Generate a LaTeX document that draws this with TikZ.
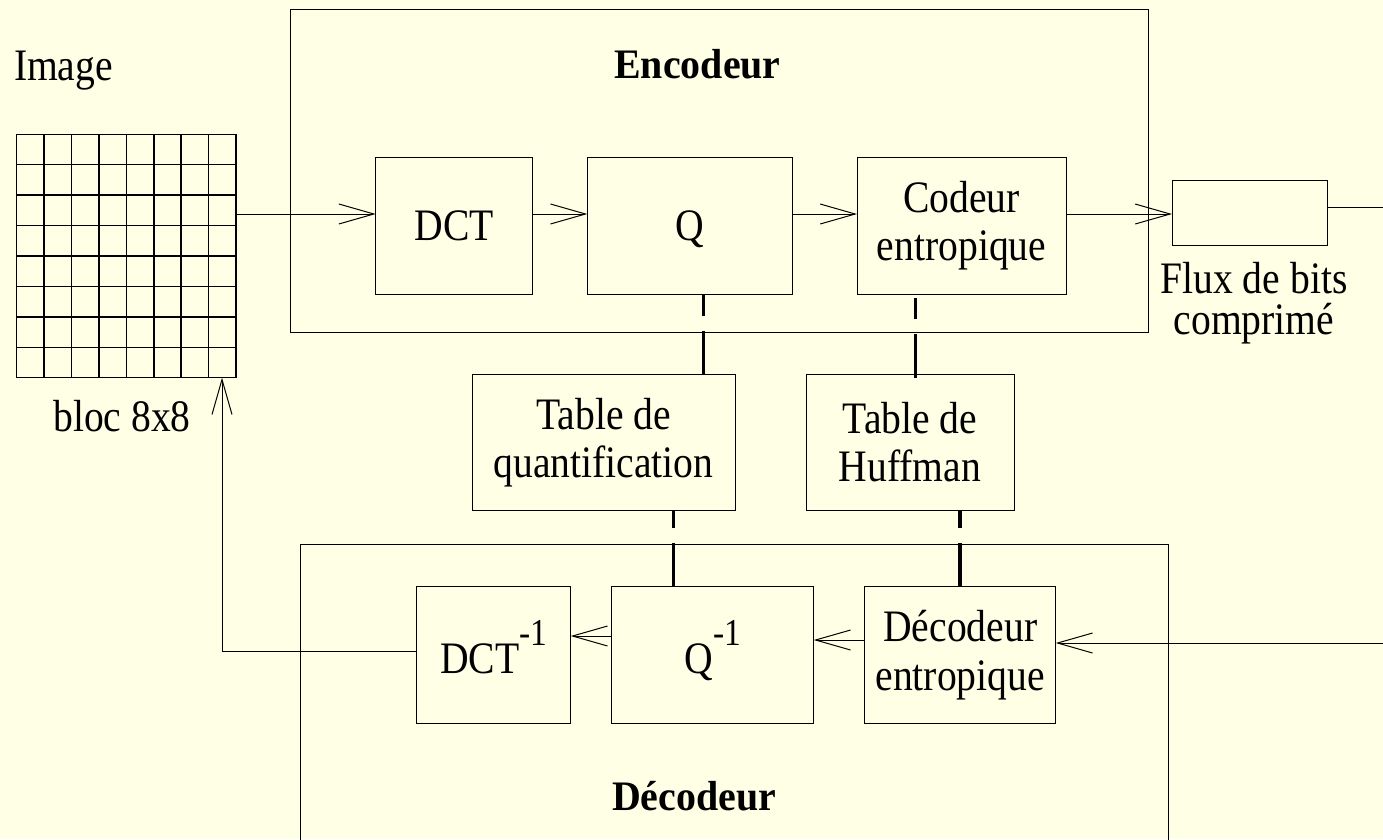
\documentclass[tikz,border=0pt]{standalone}
\usepackage{fontspec}
\setmainfont{Liberation Serif}[FakeStretch=0.88]
\newfontfamily\headfont{Liberation Serif}[FakeStretch=0.95]
\usetikzlibrary{arrows.meta,calc}
\definecolor{paper}{RGB}{255,255,230}
\begin{document}
\begin{tikzpicture}[x=1pt,y=-1pt,
  every node/.style={inner sep=0pt, outer sep=0pt, font=\fontsize{45}{48}\selectfont},
  box/.style={draw, line width=1pt},
  gridline/.style={line width=1.5pt, line cap=rect},
  flow/.style={line width=1pt, -{Straight Barb[length=35pt,width=20pt]}},
  link/.style={line width=3.5pt},
  title/.style={font=\headfont\fontsize{42}{48}\selectfont\bfseries}]

\useasboundingbox (0,0) rectangle (1383,839);
\fill[paper] (0,0) rectangle (1383,839);
\clip (0,0) rectangle (1383,839);

% 8x8 block of the image
\node[minimum width=219.3pt, minimum height=243.4pt] (grid) at (126.35,256) {};
\foreach \i in {0,...,8}{
  \draw[gridline] ($(grid.north west)!\i/8!(grid.north east)$) -- ($(grid.south west)!\i/8!(grid.south east)$);
  \draw[gridline] ($(grid.north west)!\i/8!(grid.south west)$) -- ($(grid.north east)!\i/8!(grid.south east)$);
}
\node[anchor=base west] (imglabel) at (14,80) {Image};
\node[anchor=base] (bloclabel) at (122,431) {bloc 8x8};

% encoder and decoder frames
\node[box, minimum width=857.7pt, minimum height=322.7pt] (enc) at (719.15,170.65) {};
\node[box, minimum width=868.5pt, minimum height=355.7pt] (dec) at (734.25,722.15) {};
\node[title, anchor=base] (enclabel) at (697.5,78) {Encodeur};
\node[title, anchor=base] (declabel) at (694,810) {Décodeur};

% encoder stages
\node[box, minimum width=157pt, minimum height=136.7pt] (dct) at (454.2,225.65) {DCT};
\node[box, minimum width=205.4pt, minimum height=136.7pt, text depth=0pt] (q) at (690,225.65) {Q};
\node[box, align=center, minimum width=209pt, minimum height=136.7pt] (codeur) at (961.5,225.65) {Codeur\\entropique};

% compressed bit stream
\node[box, minimum width=155.3pt, minimum height=65pt] (flux) at (1249.65,212.5) {};
\node[align=center, font=\fontsize{45}{41}\selectfont] (fluxlabel) at (1254,302.7) {Flux de bits\\comprimé};

% tables
\node[box, align=center, minimum width=263pt, minimum height=136.7pt] (tq) at (603.5,442.35) {Table de\\quantification};
\node[box, align=center, minimum width=208pt, minimum height=136.7pt] (th) at (910,442.35) {Table de\\Huffman};

% decoder stages
\node[box, minimum width=154pt, minimum height=136.6pt, text height=36pt, text depth=0pt] (dcti) at (493.7,655) {DCT\raisebox{28pt}{\fontsize{38}{38}\selectfont -1}};
\node[box, minimum width=202pt, minimum height=136.6pt, text height=36pt, text depth=0pt] (qi) at (712.75,655) {Q\raisebox{28pt}{\fontsize{38}{38}\selectfont -1}};
\node[box, align=center, font=\fontsize{45}{49}\selectfont, minimum width=191pt, minimum height=136.6pt] (decent) at (960.25,655) {Décodeur\\entropique};

% helper rows and columns for connectors
\coordinate (encrow) at (0,214);
\coordinate (outR) at (1383,207);
\coordinate (inR) at (1383,643);
\coordinate (decrow) at (0,640);
\coordinate (qirow) at (0,636);
\coordinate (backrow) at (0,651);
\coordinate (backcol) at (222,0);
\coordinate (c1) at (703.3,0);
\coordinate (c2) at (915.7,0);
\coordinate (c3) at (673.3,0);
\coordinate (c4) at (960,0);

% encoding path
\draw[flow] (grid.east |- encrow) -- (dct.west |- encrow);
\draw[flow] (dct.east |- encrow) -- (q.west |- encrow);
\draw[flow] (q.east |- encrow) -- (codeur.west |- encrow);
\draw[flow] (codeur.east |- encrow) -- (flux.west |- encrow);
\draw[line width=1pt] (flux.east |- outR) -- (outR);

% decoding path
\draw[flow] (inR) -- (decent.east |- inR);
\draw[flow] (decent.west |- decrow) -- (qi.east |- decrow);
\draw[flow] (qi.west |- qirow) -- (dcti.east |- qirow);
\draw[flow] (dcti.west |- backrow) -| (grid.south -| backcol);

% table links
\draw[link, dash pattern=on 21.7pt off 15pt on 100pt] (q.south -| c1) -- (tq.north -| c1);
\draw[link, dash pattern=on 0pt off 4.3pt on 21pt off 15pt on 100pt, shorten >=-3.7pt] (codeur.south -| c2) -- (th.north -| c2);
\draw[link, dash pattern=on 17.6pt off 15pt on 100pt] (tq.south -| c3) -- (qi.north -| c3);
\draw[link, dash pattern=on 17.6pt off 15pt on 100pt] (th.south -| c4) -- (decent.north -| c4);
\end{tikzpicture}
\end{document}
